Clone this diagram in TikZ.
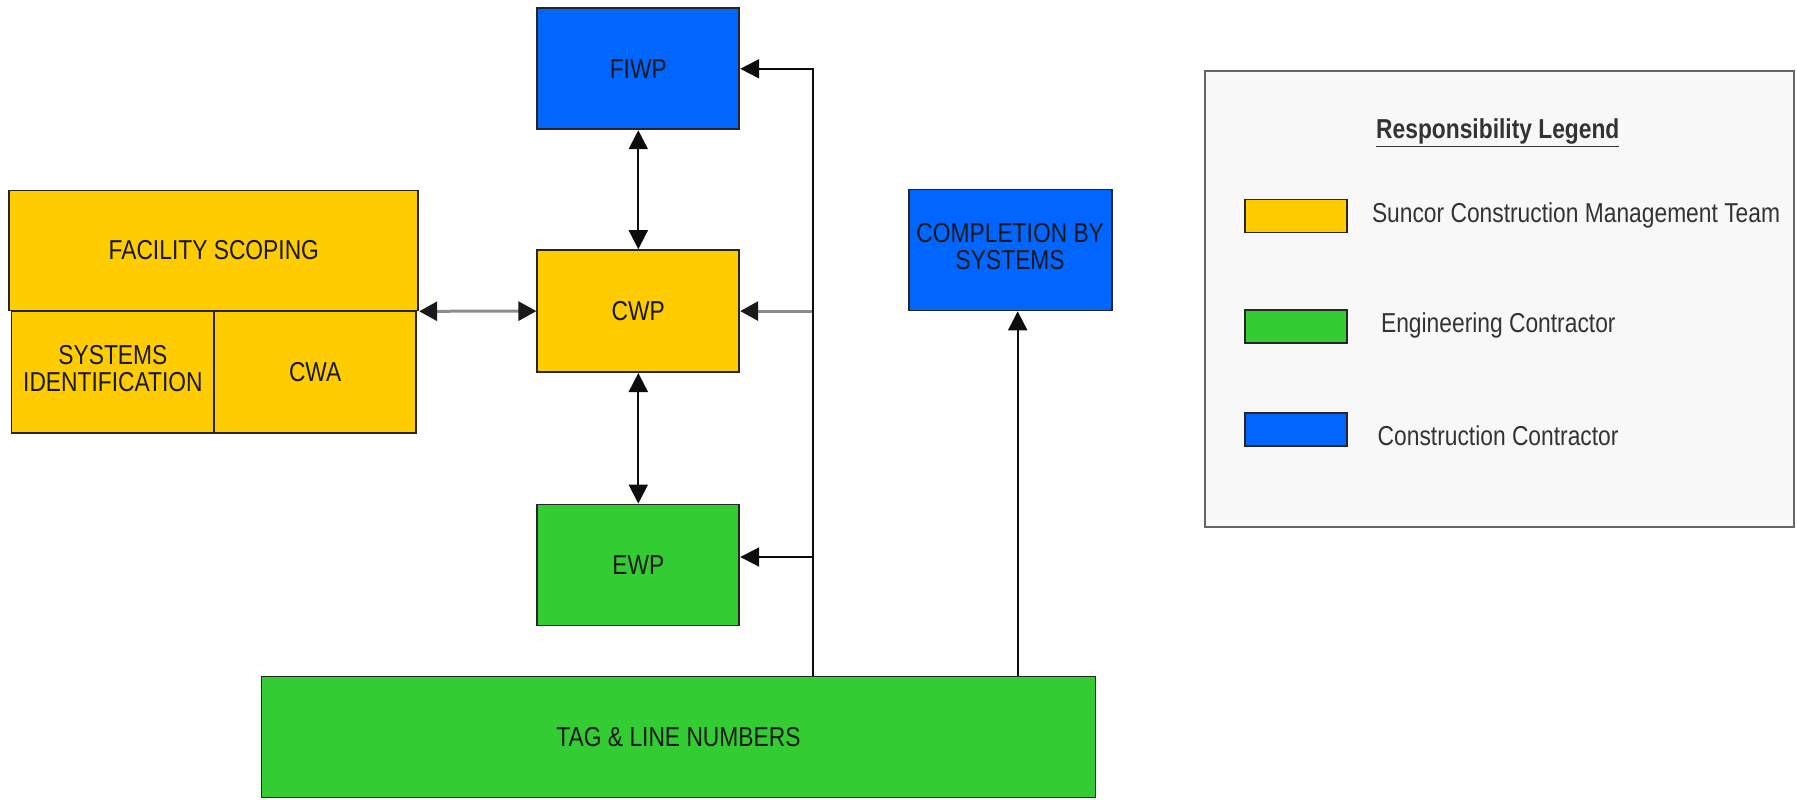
\documentclass[tikz,border=0pt]{standalone}
\usepackage{fontspec}
\setmainfont{Liberation Sans}
\usetikzlibrary{arrows.meta}
\definecolor{cyel}{HTML}{FFCC00}
\definecolor{cgrn}{HTML}{33CC33}
\definecolor{cblu}{HTML}{0066FF}
\definecolor{legbg}{HTML}{F8F8F8}
\definecolor{ltext}{HTML}{333333}
\definecolor{glin}{HTML}{8C8C8C}
\newcommand{\stx}[1]{\scalebox{1}[1.2]{#1}}
\newcommand{\twol}[2]{\stx{\begin{tabular}{@{}c@{}}#1\\#2\end{tabular}}}
\begin{document}
\begin{tikzpicture}[x=1pt,y=-1pt,
  blk/.style={draw=black!85, line width=1.8pt, inner sep=2pt, align=center,
    font=\fontsize{22.8}{21.7}\selectfont, text=black!90},
  swatch/.style={draw=black!85, line width=1.8pt, minimum width=102pt, minimum height=33pt, inner sep=0pt},
  ltxt/.style={anchor=west, inner sep=0pt, font=\fontsize{22.8}{26}\selectfont, text=ltext},
  tip/.tip={Triangle[length=19pt,width=19pt]},
  con/.style={line width=2pt, draw=black!95, -tip},
  dcon/.style={line width=2pt, draw=black!95, tip-tip},
  gcon/.style={line width=3pt, draw=glin, -{Triangle[length=18pt,width=19pt,color=black!90]}},
  gdcon/.style={line width=3pt, draw=glin, {Triangle[length=18pt,width=19pt,color=black!90]}-{Triangle[length=18pt,width=19pt,color=black!90]}}
]
\useasboundingbox (0,0) rectangle (1797,800);
% left group
\node[blk, fill=cyel, minimum width=409pt, minimum height=120pt] (fac) at (213.8,250.4) {\stx{FACILITY SCOPING}};
\node[blk, fill=cyel, minimum width=203pt, minimum height=122pt] (sys) at (112.9,371.9) {\twol{SYSTEMS}{IDENTIFICATION}};
\node[blk, fill=cyel, minimum width=202pt, minimum height=122pt] (cwa) at (315.2,371.9) {\stx{CWA}};
% central column
\node[blk, fill=cblu, minimum width=202pt, minimum height=121pt] (fiwp) at (638.3,68.8) {\stx{FIWP}};
\node[blk, fill=cyel, minimum width=202pt, minimum height=122pt] (cwp) at (638.3,311.1) {\stx{CWP}};
\node[blk, fill=cgrn, minimum width=202pt, minimum height=121pt] (ewp) at (638.3,565) {\stx{EWP}};
\node[blk, fill=cgrn, minimum width=834pt, minimum height=121pt] (tag) at (678.5,736.9) {\stx{TAG \& LINE NUMBERS}};
\node[blk, fill=cblu, minimum width=203pt, minimum height=121pt] (cmp) at (1010.2,249.9) {\twol{COMPLETION BY}{SYSTEMS}};
% connectors
\coordinate (bus) at (812.5,0);
\coordinate (bus2) at (1017.7,0);
\coordinate (ewpin) at ([yshift=8pt]ewp.east);
\draw[gdcon] (fac.south east) -- (cwp.west);
\draw[dcon] (fiwp.south) -- (cwp.north);
\draw[dcon] (cwp.south) -- (ewp.north);
\draw[gcon] ([xshift=-1pt]bus |- cwp.east) -- (cwp.east);
\draw[con] (tag.north -| bus) |- (fiwp.east);
\draw[con] (bus |- ewpin) -- (ewpin);
\draw[con] (tag.north -| bus2) -- (bus2 |- cmp.south);
% legend
\node[draw=black!60, line width=2pt, fill=legbg, minimum width=589pt, minimum height=456pt, inner sep=0pt] (leg) at (1499,299.1) {};
\node[inner sep=0pt, font=\fontsize{22.8}{26}\selectfont\bfseries, text=ltext] (lt) at (1497.8,132.9) {\stx{\underline{Responsibility Legend}}};
\node[swatch, fill=cyel] (sw1) at (1295.6,216) {};
\node[swatch, fill=cgrn] (sw2) at (1295.6,326.6) {};
\node[swatch, fill=cblu] (sw3) at (1295.6,429.2) {};
\node[ltxt] (l1) at (1371.8,215.4) {\stx{Suncor Construction Management Team}};
\node[ltxt] (l2) at (1380.9,325.5) {\stx{Engineering Contractor}};
\node[ltxt] (l3) at (1377.5,435.5) {\stx{Construction Contractor}};
\end{tikzpicture}
\end{document}
